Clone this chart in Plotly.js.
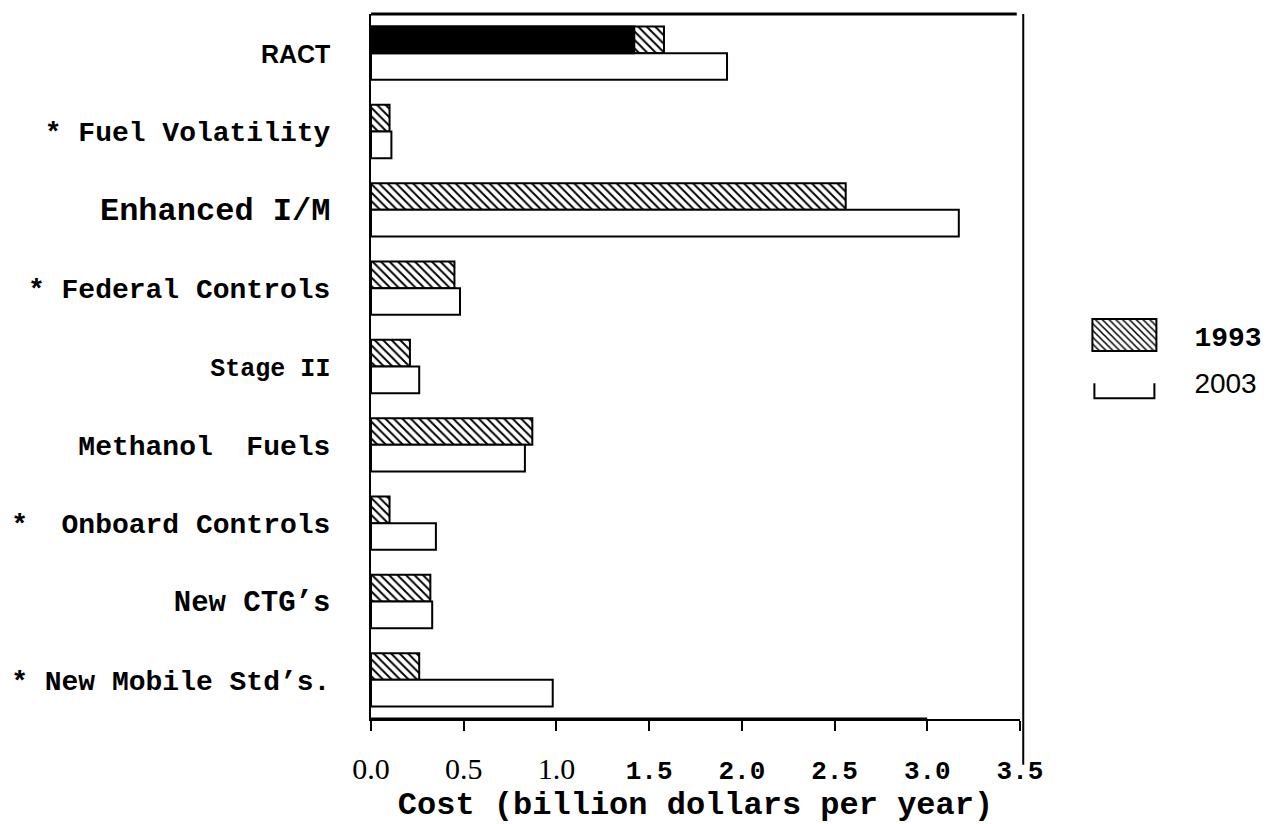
<!DOCTYPE html>
<html>
<head>
<meta charset="utf-8">
<script src="https://cdn.plot.ly/plotly-3.0.1.min.js"></script>
<style>
  html, body { margin: 0; padding: 0; background: #fff; }
  #chart { width: 1268px; height: 824px; }
</style>
</head>
<body>
<div id="chart"></div>
<script>
// ---- data ----
const categories = ["RACT", "* Fuel Volatility", "Enhanced I/M", "* Federal Controls", "Stage II",
                    "Methanol  Fuels", "*  Onboard Controls", "New CTG\u2019s", "* New Mobile Std\u2019s."];
const cost1993 = [1.58, 0.10, 2.56, 0.45, 0.21, 0.87, 0.10, 0.32, 0.26];
const cost2003 = [1.92, 0.11, 3.17, 0.48, 0.26, 0.83, 0.35, 0.33, 0.98];
const ractSolidCategory = ["RACT"];
const ractSolid1993 = [1.42];
const seriesNames = ["1993", "2003"];
const tickVals = [0, 0.5, 1.0, 1.5, 2.0, 2.5, 3.0, 3.5];
const tickLabels = ["0.0", "0.5", "1.0", "1.5", "2.0", "2.5", "3.0", "3.5"];
const axisTitle = "Cost (billion dollars per year)";

// ---- styling ----
const MONO = "Liberation Mono, Courier New, monospace";
const SERIF = "Liberation Serif, Times New Roman, serif";
const SANS = "Liberation Sans, Arial, sans-serif";

function catLabel(c) {
  if (c === "RACT") return '<span style="font-family:' + SANS + ';font-weight:bold;font-size:25px">' + c + '</span>';
  if (c === "Enhanced I/M") return '<span style="font-size:32px">' + c + '</span>';
  if (c === "Stage II") return '<span style="font-size:25px">' + c + '</span>';
  if (c === "New CTG\u2019s") return '<span style="font-size:29px">' + c + '</span>';
  return c;
}
function xLabel(t, i) {
  if (i < 3) return '<span style="font-family:' + SERIF + ';font-weight:normal;font-size:30px">' + t + '</span>';
  return t;
}
function legendName(n, i) {
  if (i === 1) return '<span style="font-family:' + SANS + ';font-weight:normal;font-size:28px">' + n + '</span>';
  return n;
}

const barW = 0.34;
const lineStyle = { color: "#000", width: 2 };

const traces = [
  {
    type: "bar", orientation: "h", name: legendName(seriesNames[0], 0),
    y: categories, x: cost1993,
    offset: -barW, width: barW,
    marker: { color: "#fff", line: lineStyle,
      pattern: { shape: "\\", fgcolor: "#000", bgcolor: "#fff", size: 6, solidity: 0.32 } },
    legendgroup: "a", legendrank: 1
  },
  {
    type: "bar", orientation: "h", name: legendName(seriesNames[1], 1),
    y: categories, x: cost2003,
    offset: 0, width: barW,
    marker: { color: "#fff", line: lineStyle },
    legendgroup: "b", legendrank: 2
  },
  {
    type: "bar", orientation: "h", name: "1993 (solid)", showlegend: false,
    y: ractSolidCategory, x: ractSolid1993,
    offset: -barW, width: barW,
    marker: { color: "#000", line: lineStyle }
  }
];

const layout = {
  width: 1268, height: 824,
  margin: { l: 371, r: 248, t: 14, b: 105, autoexpand: false },
  paper_bgcolor: "#fff", plot_bgcolor: "#fff",
  font: { family: MONO, color: "#000", size: 28, weight: "bold" },
  barmode: "overlay",
  showlegend: true,
  legend: {
    x: 1.053, y: 0.511, xanchor: "left", yanchor: "middle",
    font: { family: MONO, size: 28, color: "#000", weight: "bold" },
    traceorder: "grouped", tracegroupgap: 8,
    bgcolor: "rgba(0,0,0,0)", itemwidth: 130
  },
  xaxis: {
    range: [0, 3.5], fixedrange: true, automargin: false,
    tickmode: "array", tickvals: tickVals, ticktext: tickLabels.map(xLabel),
    ticks: "outside", ticklen: 10, tickwidth: 2, tickcolor: "#000",
    showline: true, linecolor: "#000", linewidth: 2,
    showgrid: false, zeroline: false,
    ticklabelstandoff: 17,
    tickfont: { family: MONO, size: 26, color: "#000", weight: "bold" },
    title: { text: axisTitle, font: { family: MONO, size: 32, color: "#000", weight: "bold" }, standoff: 10 }
  },
  yaxis: {
    type: "category", range: [8.5, -0.5], fixedrange: true, automargin: false,
    tickmode: "array", tickvals: categories, ticktext: categories.map(catLabel),
    ticks: "", showline: true, linecolor: "#000", linewidth: 2,
    showgrid: false, zeroline: false,
    ticklabelstandoff: 33,
    tickfont: { family: MONO, size: 28, color: "#000", weight: "bold" }
  },
  shapes: [
    { type: "line", xref: "paper", yref: "paper", x0: 0, x1: 0.995, y0: 1, y1: 1, line: { color: "#000", width: 3 } },
    { type: "line", xref: "paper", yref: "paper", x0: 1.005, x1: 1.005, y0: -0.065, y1: 1, line: { color: "#000", width: 2 } },
    { type: "line", xref: "paper", yref: "paper", x0: 0, x1: 0.857, y0: 0, y1: 0, line: { color: "#000", width: 3 } }
  ]
};

Plotly.newPlot("chart", traces, layout, { displayModeBar: false, staticPlot: true }).then(function (gd) {
  // enlarge legend swatches to the reference's proportions
  const items = gd.querySelectorAll(".legend .traces");
  items.forEach(function (item, i) {
    const p = item.querySelector(".legendpoints path");
    if (!p) return;
    if (i === 0) {
      p.setAttribute("d", "M32,16H-32V-16H32Z");
      p.style.strokeWidth = "2px";
    } else {
      p.setAttribute("d", "M-30,1V16H30V1");
      p.style.fill = "none";
      p.style.strokeWidth = "2px";
    }
  });
});
</script>
</body>
</html>
